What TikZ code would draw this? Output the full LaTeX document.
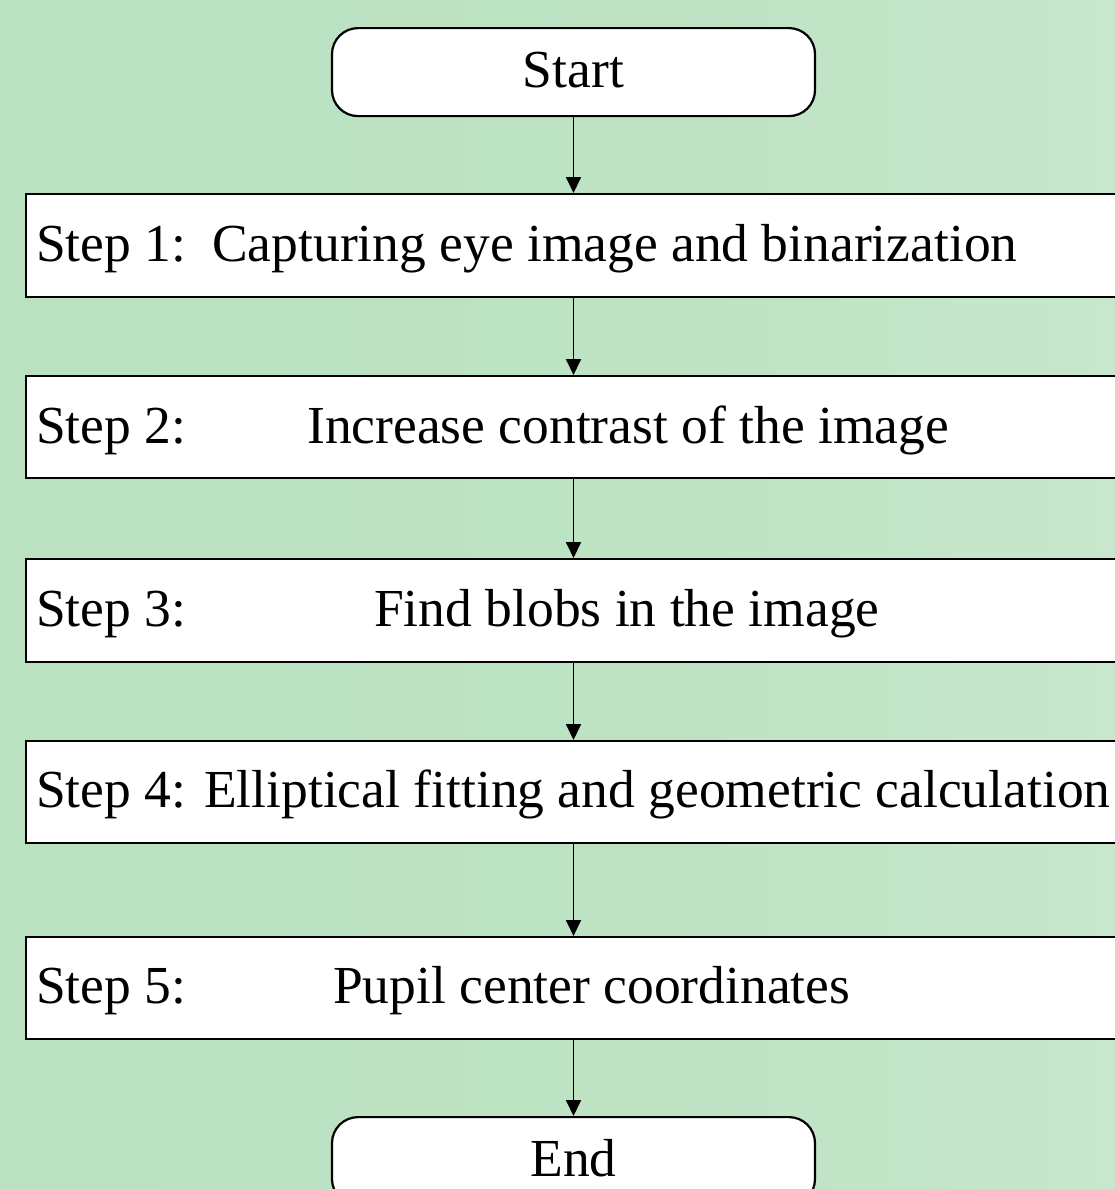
\documentclass[tikz,border=0pt]{standalone}
\usepackage{fontspec}
\setmainfont{Liberation Serif}
\usetikzlibrary{arrows.meta}
\definecolor{bgL}{RGB}{183,224,190}
\definecolor{bgM}{RGB}{189,227,195}
\definecolor{bgR}{RGB}{214,236,218}
\pgfdeclarehorizontalshading{bgshade}{100bp}{color(0bp)=(bgL); color(55bp)=(bgM); color(100bp)=(bgR)}
\tikzset{
  stepbox/.style={draw=black, line width=2.2pt, fill=white, rectangle, anchor=north west, inner sep=0pt},
  termbox/.style={draw=black, line width=2.2pt, fill=white, rectangle, rounded corners=26pt, minimum width=483pt, minimum height=88pt, anchor=north, inner sep=0pt},
  txt/.style={anchor=base west, inner sep=0pt, font=\fontsize{53.5}{60}\selectfont},
  ctxt/.style={anchor=base, inner sep=0pt, font=\fontsize{53.5}{60}\selectfont},
  arr/.style={line width=1.8pt, -{Triangle[length=16pt,width=15pt]}}
}
\begin{document}
\begin{tikzpicture}[x=1pt,y=-1pt]
\useasboundingbox (0,0) rectangle (1115,1189);
\shade[shading=bgshade] (0,0) rectangle (1115,1189);
% terminals
\node[termbox] (start) at (573.5,27) {};
\node[termbox] (end) at (573.5,1116) {};
% step boxes
\node[stepbox, minimum width=1110pt, minimum height=103pt] (s1) at (25,193) {};
\node[stepbox, minimum width=1110pt, minimum height=102pt] (s2) at (25,375) {};
\node[stepbox, minimum width=1110pt, minimum height=103pt] (s3) at (25,558) {};
\node[stepbox, minimum width=1110pt, minimum height=102pt] (s4) at (25,740) {};
\node[stepbox, minimum width=1110pt, minimum height=102pt] (s5) at (25,936) {};
% texts
\node[ctxt] (tstart) at (573.5,87) {Start};
\node[ctxt] (tend) at (573.5,1176) {End};
\node[txt] (l1) at (36,261) {Step 1:};
\node[txt] (m1) at (212,261) {Capturing eye image and binarization};
\node[txt] (l2) at (36,443) {Step 2:};
\node[txt] (m2) at (307,443) {Increase contrast of the image};
\node[txt] (l3) at (36,626) {Step 3:};
\node[txt] (m3) at (374,626) {Find blobs in the image};
\node[txt] (l4) at (36,807) {Step 4: Elliptical fitting and geometric calculation};
\node[txt] (l5) at (36,1003) {Step 5:};
\node[txt] (m5) at (333,1003) {Pupil center coordinates};
% arrows
\draw[arr] (start.south) -- (start.south |- s1.north);
\draw[arr] (start.south |- s1.south) -- (start.south |- s2.north);
\draw[arr] (start.south |- s2.south) -- (start.south |- s3.north);
\draw[arr] (start.south |- s3.south) -- (start.south |- s4.north);
\draw[arr] (start.south |- s4.south) -- (start.south |- s5.north);
\draw[arr] (start.south |- s5.south) -- (end.north);
\end{tikzpicture}
\end{document}
